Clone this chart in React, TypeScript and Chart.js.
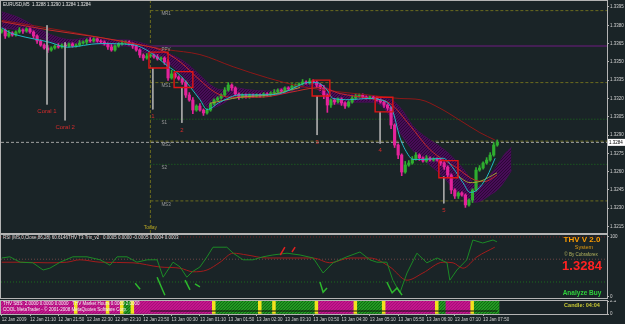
import React, { useEffect, useRef } from 'react';
import { Chart, registerables } from 'chart.js';

Chart.register(...registerables);

const FONT = '"Liberation Sans", Arial, sans-serif';
const BG = '#1a2427';
const FRAME = '#b4b4b4';
const AXIS_TXT = '#d2d2d2';
const PIP = 0.0001;
const X_MIN = -0.2;
const X_MAX = 171;
const P_MIN = 1.32097;
const P_MAX = 1.33999;

// ---------- data ----------
const chartTitle = 'EURUSD,M5  1.3288 1.3290 1.3284 1.3284';
const timeLabels = [
  '12 Jan 2009', '12 Jan 21:10', '12 Jan 21:50', '12 Jan 22:30', '12 Jan 23:10', '12 Jan 23:50',
  '13 Jan 00:30', '13 Jan 01:10', '13 Jan 01:50', '13 Jan 02:30', '13 Jan 03:10', '13 Jan 03:50',
  '13 Jan 04:30', '13 Jan 05:10', '13 Jan 05:50', '13 Jan 06:30', '13 Jan 07:10', '13 Jan 07:50',
];
const timeTickIdx = [0, 8, 16, 24, 32, 40, 48, 56, 64, 72, 80, 88, 96, 104, 112, 120, 128, 136];

const firstOpen = 1.33745;
const closes = [
  1.33761, 1.33712, 1.33737, 1.33720, 1.33745, 1.33761, 1.33753, 1.33770, 1.33745, 1.33712,
  1.33671, 1.33638, 1.33614, 1.33597, 1.33614, 1.33630, 1.33622, 1.33638, 1.33630, 1.33647,
  1.33630, 1.33638, 1.33655, 1.33663, 1.33679, 1.33671, 1.33688, 1.33671, 1.33663, 1.33647,
  1.33622, 1.33597, 1.33630, 1.33647, 1.33655, 1.33663, 1.33647, 1.33630, 1.33597, 1.33556,
  1.33532, 1.33548, 1.33556, 1.33540, 1.33524, 1.33532, 1.33499, 1.33368, 1.33401, 1.33376,
  1.33360, 1.33335, 1.33228, 1.33187, 1.33105, 1.33138, 1.33105, 1.33081, 1.33105, 1.33155,
  1.33187, 1.33204, 1.33228, 1.33269, 1.33310, 1.33286, 1.33237, 1.33212, 1.33228, 1.33212,
  1.33228, 1.33220, 1.33228, 1.33220, 1.33237, 1.33228, 1.33245, 1.33253, 1.33269, 1.33261,
  1.33286, 1.33278, 1.33302, 1.33310, 1.33319, 1.33335, 1.33327, 1.33343, 1.33335, 1.33310,
  1.33286, 1.33228, 1.33146, 1.33187, 1.33171, 1.33196, 1.33163, 1.33138, 1.33171, 1.33204,
  1.33220, 1.33228, 1.33212, 1.33204, 1.33212, 1.33204, 1.33187, 1.33171, 1.33146, 1.33122,
  1.32982, 1.32818, 1.32736, 1.32597, 1.32654, 1.32671, 1.32704, 1.32736, 1.32712, 1.32687,
  1.32712, 1.32695, 1.32704, 1.32695, 1.32671, 1.32638, 1.32572, 1.32450, 1.32400, 1.32425,
  1.32408, 1.32327, 1.32367, 1.32450, 1.32613, 1.32630, 1.32671, 1.32695, 1.32736, 1.32818,
  1.32840,
];
// wick extents in pips above / below the body
const wickUp = [
  1, 1, 2, 1, 1, 2, 1, 1, 1, 1, 1, 1, 1, 2, 1, 1, 2, 1, 1, 1,
  1, 1, 2, 1, 1, 2, 1, 1, 1, 1, 1, 2, 1, 1, 2, 1, 1, 1, 1, 1,
  1, 2, 1, 1, 2, 1, 1, 2, 3, 1, 1, 1, 1, 2, 2, 1, 2, 1, 1, 1,
  1, 1, 1, 2, 2, 1, 1, 1, 1, 1, 1, 1, 1, 1, 1, 1, 1, 2, 1, 1,
  1, 1, 2, 1, 1, 2, 1, 2, 1, 1, 1, 2, 1, 1, 1, 1, 1, 1, 1, 2,
  2, 1, 1, 1, 1, 1, 1, 1, 1, 1, 1, 1, 1, 1, 3, 2, 2, 2, 1, 1,
  2, 1, 1, 1, 1, 1, 1, 1, 1, 1, 1, 1, 1, 1, 2, 2, 1, 2, 2, 2, 2,
];
const wickDown = [
  1, 2, 1, 1, 1, 1, 2, 1, 1, 2, 2, 1, 1, 2, 1, 1, 1, 1, 1, 1,
  1, 1, 1, 1, 2, 1, 1, 1, 1, 1, 2, 1, 1, 1, 1, 1, 1, 2, 1, 2,
  2, 1, 1, 1, 1, 1, 2, 2, 1, 1, 1, 2, 2, 1, 3, 1, 1, 2, 1, 1,
  1, 1, 1, 1, 1, 2, 1, 2, 1, 1, 1, 1, 1, 1, 1, 1, 1, 1, 1, 1,
  1, 1, 1, 1, 1, 1, 1, 1, 1, 2, 2, 3, 6, 2, 2, 1, 2, 2, 1, 1,
  1, 1, 1, 1, 1, 1, 1, 1, 2, 2, 3, 2, 3, 3, 1, 1, 1, 1, 2, 1,
  1, 1, 1, 1, 2, 2, 2, 3, 2, 2, 1, 2, 1, 2, 1, 1, 1, 1, 1, 1, 1,
];

const priceTicks = [1.3395, 1.338, 1.3365, 1.335, 1.3335, 1.332, 1.3305, 1.329, 1.3275, 1.326, 1.3245, 1.323, 1.3215];
const bidPrice = 1.3284;
const todayIdx = 42;

const pivotNames = ['MR1', 'PPV', 'MS1', 'S1', 'MS2', 'S2', 'MS3'];
const pivotPrices = [1.3392, 1.3363, 1.3333, 1.3303, 1.3285, 1.3266, 1.3236];
const pivotKinds = ['mid', 'pp', 'mid', 'sup', 'mid', 'sup', 'mid'];

const slowIdx = [0, 18.5, 37, 46.7, 56, 65.4, 75, 84.3, 93.6, 103.2, 112.5, 118.2, 123.8, 129.5, 135.1, 139.3];
const slowVal = [1.3384, 1.3375, 1.3365, 1.336, 1.3356, 1.3346, 1.3337, 1.333, 1.3326, 1.3323, 1.332, 1.3319, 1.3312, 1.3302, 1.3292, 1.3286];

const medIdx = [0, 13.6, 27.8, 39, 44.7, 50.4, 56, 60.3, 64.5, 73, 81.4, 90, 95.6, 104, 109.7, 115.3, 121, 128.6, 133.7, 136.5, 139.9];
const medVal = [1.3383, 1.3376, 1.337, 1.3364, 1.336, 1.335, 1.3335, 1.3325, 1.3321, 1.3321, 1.3325, 1.3329, 1.3324, 1.332, 1.3316, 1.3298, 1.3278, 1.3263, 1.3253, 1.3252, 1.3257];

const fastIdx = [0, 2.3, 4.3, 13.6, 18.5, 27.8, 37.1, 41.9, 46.7, 50.4, 56, 58, 61.7, 67.3, 73.8, 78.6, 84.3, 86.2, 89, 91.9, 93.6, 98.4, 103.2, 106.9, 110.3, 112.5, 114.8, 116.2, 119, 124.7, 127.5, 130.3, 132.3, 134.3, 137.1, 139.4];
const fastVal = [1.3378, 1.3374, 1.3372, 1.3366, 1.3362, 1.3365, 1.3364, 1.3358, 1.3347, 1.3339, 1.3319, 1.3311, 1.3317, 1.3323, 1.3323, 1.3324, 1.3331, 1.3333, 1.3333, 1.3327, 1.332, 1.3319, 1.332, 1.3319, 1.3311, 1.3288, 1.3274, 1.327, 1.327, 1.3271, 1.3263, 1.3251, 1.3243, 1.3245, 1.3256, 1.3271];

const oliveIdx = [58.8, 67.3, 75.8, 84.3, null, 128.6, 132.3, 135.1, 139.9];
const oliveVal = [1.3316, 1.3321, 1.3323, 1.3329, null, 1.3257, 1.3251, 1.3252, 1.3259];

const cloudIdx = [0, 5, 10, 15, 20, 25, 30, 35, 40, 45, 48, 50, 53, 56, 59, 62, 65, 70, 75, 80, 85, 88, 90, 93, 96, 100, 105, 108, 110, 113, 116, 119, 122, 125, 128, 131, 134, 136, 138, 140, 142, 144];
const cloudTop = [1.3391, 1.3386, 1.3378, 1.3371, 1.3368, 1.337, 1.3368, 1.3368, 1.3365, 1.336, 1.3356, 1.3353, 1.3347, 1.3339, 1.3331, 1.3327, 1.3329, 1.3327, 1.3326, 1.3329, 1.3332, 1.3333, 1.3332, 1.3327, 1.3324, 1.3323, 1.3322, 1.332, 1.3319, 1.3311, 1.3298, 1.329, 1.3284, 1.3278, 1.327, 1.326, 1.3249, 1.3249, 1.3257, 1.3265, 1.3274, 1.328];
const cloudBot = [1.3378, 1.3376, 1.3371, 1.3366, 1.3365, 1.3366, 1.3363, 1.3363, 1.3358, 1.3353, 1.3347, 1.3342, 1.3333, 1.332, 1.3312, 1.3315, 1.332, 1.3321, 1.3322, 1.3324, 1.3329, 1.333, 1.3325, 1.3317, 1.3315, 1.3317, 1.3317, 1.3312, 1.3304, 1.329, 1.3278, 1.327, 1.3263, 1.3255, 1.3245, 1.3238, 1.3235, 1.3237, 1.3241, 1.3245, 1.3252, 1.3261];

const markerIdx = [12.8, 17.9, 42.7, 50.9, 89.1, 106.9, 124.9];
const markerTop = [1.338, 1.3366, 1.3345, 1.3329, 1.3322, 1.3309, 1.3256];
const markerBottom = [1.3315, 1.3302, 1.3311, 1.33, 1.329, 1.3283, 1.3234];
const markerLabels = ['Coral 1', 'Coral 2', '1', '2', '3', '4', '5'];

const boxFrom = [41.6, 48.7, 87.7, 105.5, 123.5];
const boxTo = [47.0, 54.0, 92.7, 110.5, 128.9];
const boxTop = [1.3358, 1.3342, 1.3335, 1.3321, 1.3269];
const boxBottom = [1.3345, 1.3329, 1.3322, 1.3309, 1.3255];

// RSI panel
const rsiTitle = 'RSI (MS,0,Close,86,28) 60.6146';
const trixTitle = 'THV T3 Trix_v2   0.0005 0.0000 -0.0005 0.0004 0.0003';
const rsiTicks = [0, 100];
const rsiLevels = [100, 63, 25];
const rsiFastIdx = [0, 2.3, 5.2, 8.8, 11.7, 13.6, 16.5, 20.1, 24.1, 27.8, 30.6, 32.6, 35.4, 38.2, 41.1, 43.9, 45.6, 48.4, 50.4, 52.3, 53.8, 56, 58, 59.7, 63.6, 65.4, 68.2, 71, 73.8, 76.6, 80.6, 84.3, 88, 90.8, 93.6, 97.5, 101.2, 104, 106, 108.8, 110.5, 112.5, 114.5, 117.3, 120.1, 123, 125.8, 126.6, 128.6, 131.4, 133.1, 135.9, 138.8, 139.9];
const rsiFastVal = [65, 67, 58, 57, 45, 48, 58, 67, 67, 62, 53, 67, 67, 58, 62, 62, 33, 58, 50, 33, 42, 50, 67, 83, 83, 73, 62, 62, 67, 70, 73, 70, 65, 40, 57, 67, 75, 62, 58, 58, 28, 7, 40, 73, 57, 65, 57, 28, 45, 62, 95, 90, 95, 92];
const rsiSlowIdx = [0, 5.2, 12.8, 18.4, 22.1, 27.8, 37.1, 44.7, 50.4, 54.1, 58, 61.7, 65.4, 69.3, 74.9, 80.6, 88, 92.7, 98.4, 104, 109.7, 114.5, 119, 124.7, 127.5, 130.3, 134.3, 139.3];
const rsiSlowVal = [58, 58, 57, 58, 62, 58, 57, 50, 48, 42, 45, 58, 73, 70, 65, 65, 65, 57, 65, 65, 50, 28, 40, 58, 57, 48, 67, 83];
const trixGreen = [
  [[37.7, 23], [39.1, 13]],
  [[43.9, 33], [46.1, 3]],
  [[51.8, 28], [53.2, 12]],
  [[54.6, 22], [56, 17]],
  [[89.9, 25], [90.8, 8], [91.9, 15]],
  [[108.8, 25], [110.3, 7], [111.7, 15], [113.1, 3]],
];
const trixRed = [
  [[78.7, 70], [80, 83]],
  [[82, 75], [82.9, 83]],
];

// signal strip
const stripTicks = [0, 2.1];
const stripSegments: [string, number][] = [
  ['M', 21], ['Y', 1], ['M', 8], ['Y', 1], ['M', 3], ['Y', 1], ['G', 2], ['Y', 1], ['M', 22], ['Y', 1],
  ['G', 12], ['Y', 1], ['G', 3], ['Y', 1], ['G', 11], ['Y', 1], ['M', 10], ['Y', 1], ['G', 7], ['Y', 1],
  ['M', 14], ['Y', 1], ['G', 2], ['M', 7], ['Y', 1], ['G', 7],
];
const stripLineIdx = [42, 140];
const stripLineVal = [0.48, 0.48];
const stripText1 = 'THV SBS: 2.0000 0.0000 0.0000   THV Market Hours 0.0000 2.0000';
const stripText2 = 'COOL MetaTrader - \u00a9 2001-2008 MetaQuotes Software Corp.';

// ---------- helpers ----------
function pattern(base: string, dot: string): any {
  const c = document.createElement('canvas');
  c.width = 3;
  c.height = 3;
  const g = c.getContext('2d');
  if (!g) return base;
  g.fillStyle = base;
  g.fillRect(0, 0, 3, 3);
  g.fillStyle = dot;
  g.fillRect(0, 0, 1, 1);
  g.fillRect(2, 1, 1, 1);
  g.fillRect(1, 2, 1, 1);
  return g.createPattern(c, 'repeat') || base;
}

const pts = (xs: (number | null)[], ys: (number | null)[]) =>
  xs.map((x, i) => ({ x: x === null ? (xs[i - 1] as number) : x, y: ys[i] }));

function rightAxis(min: number, max: number, ticks: number[], fmt: (v: number) => string) {
  return {
    position: 'right',
    min,
    max,
    beginAtZero: false,
    afterFit: (s: any) => {
      s.width = 18;
      s.paddingTop = 0;
      s.paddingBottom = 0;
    },
    afterBuildTicks: (s: any) => {
      s.ticks = ticks.map((v) => ({ value: v }));
    },
    ticks: {
      autoSkip: false,
      font: { size: 4.5, family: FONT },
      color: AXIS_TXT,
      padding: 1,
      callback: (v: any) => fmt(Number(v)),
    },
    grid: { drawOnChartArea: false, drawTicks: true, tickLength: 2, color: FRAME },
    border: { display: true, color: FRAME },
  };
}

const hiddenX = { type: 'linear', display: false, min: X_MIN, max: X_MAX, offset: false, grid: { offset: false } };

function frame(chart: any) {
  const { ctx, chartArea: a } = chart;
  ctx.save();
  ctx.strokeStyle = FRAME;
  ctx.lineWidth = 1;
  ctx.strokeRect(a.left - 0.5, a.top - 0.5, a.right - a.left + 1, a.bottom - a.top + 1);
  ctx.restore();
}

const lineDs = (data: any[], color: string, order: number, extra: any = {}) => ({
  type: 'line',
  data,
  borderColor: color,
  borderWidth: 1,
  pointRadius: 0,
  fill: false,
  spanGaps: false,
  order,
  ...extra,
});

// ---------- main panel ----------
function buildMain(): any {
  const opens = closes.map((_, i) => (i === 0 ? firstOpen : closes[i - 1]));
  const BULL = '#2fae2f';
  const BEAR = '#e3239b';
  const colors = closes.map((c, i) => (c >= opens[i] ? BULL : BEAR));
  const bodies = closes.map((c, i) => ({ x: i, y: [opens[i], c] }));
  const wicks = closes.map((c, i) => ({
    x: i,
    y: [Math.min(c, opens[i]) - wickDown[i] * PIP, Math.max(c, opens[i]) + wickUp[i] * PIP],
  }));

  const pivotStyle: any = {
    mid: { color: '#6c6c1e', dash: [3, 2] },
    pp: { color: '#6e1a82', dash: [] },
    sup: { color: '#1c701c', dash: [1, 2] },
  };
  const pivotDs = pivotPrices.map((p, k) =>
    lineDs(
      [{ x: todayIdx, y: p }, { x: X_MAX, y: p }],
      pivotStyle[pivotKinds[k]].color,
      110 + k,
      { borderDash: pivotStyle[pivotKinds[k]].dash },
    ),
  );

  const markerData = markerIdx.flatMap((ix, k) => [
    { x: ix, y: markerTop[k] },
    { x: ix, y: markerBottom[k] },
    { x: ix, y: null },
  ]);
  const boxData = boxFrom.flatMap((x0, k) => [
    { x: x0, y: boxTop[k] },
    { x: boxTo[k], y: boxTop[k] },
    { x: boxTo[k], y: boxBottom[k] },
    { x: x0, y: boxBottom[k] },
    { x: x0, y: boxTop[k] },
    { x: x0, y: null },
  ]);

  const cloudFill = pattern('#480d58', '#2c0736');

  const overlay = {
    id: 'mainOverlay',
    afterDraw(chart: any) {
      const { ctx, chartArea: a, scales } = chart;
      const xs = scales.x;
      const ys = scales.y;
      frame(chart);
      ctx.save();
      ctx.textBaseline = 'middle';
      ctx.font = `4.5px ${FONT}`;
      ctx.fillStyle = '#e6e6e6';
      ctx.textAlign = 'left';
      ctx.fillText(chartTitle, 3, 5);
      // pivot labels
      ctx.fillStyle = '#9c9c9c';
      const tx = xs.getPixelForValue(todayIdx);
      pivotNames.forEach((n, k) => ctx.fillText(n, tx + 11, ys.getPixelForValue(pivotPrices[k]) + 3.5));
      // marker labels
      ctx.font = `6px ${FONT}`;
      ctx.fillStyle = '#d22c2c';
      ctx.textAlign = 'center';
      markerLabels.forEach((l, k) =>
        ctx.fillText(l, xs.getPixelForValue(markerIdx[k]), ys.getPixelForValue(markerBottom[k]) + 7),
      );
      // today label
      ctx.font = `5px ${FONT}`;
      ctx.fillStyle = '#b4a424';
      ctx.fillText('Today', tx, a.bottom - 5);
      // bid label
      const by = ys.getPixelForValue(bidPrice);
      ctx.fillStyle = '#ffffff';
      ctx.fillRect(a.right + 1, by - 3.5, 17, 7);
      ctx.fillStyle = '#000000';
      ctx.textAlign = 'left';
      ctx.font = `4.5px ${FONT}`;
      ctx.fillText(bidPrice.toFixed(4), a.right + 2, by);
      ctx.restore();
    },
  };

  return {
    type: 'bar',
    data: {
      datasets: [
        ...pivotDs,
        lineDs([{ x: X_MIN, y: bidPrice }, { x: X_MAX, y: bidPrice }], '#a0a0a0', 105, { borderDash: [3, 2] }),
        lineDs([{ x: todayIdx, y: P_MIN }, { x: todayIdx, y: P_MAX }], '#6c6c1e', 104, { borderDash: [3, 2] }),
        lineDs(pts(cloudIdx, cloudTop), '#4a0e5a', 91, { cubicInterpolationMode: 'monotone' }),
        lineDs(pts(cloudIdx, cloudBot), '#4a0e5a', 90, {
          cubicInterpolationMode: 'monotone',
          fill: '-1',
          backgroundColor: cloudFill,
        }),
        {
          type: 'bar',
          data: wicks,
          backgroundColor: colors,
          barThickness: 1,
          grouped: false,
          borderWidth: 0,
          order: 60,
        },
        {
          type: 'bar',
          data: bodies,
          backgroundColor: colors,
          barThickness: 2.5,
          minBarLength: 1,
          grouped: false,
          borderWidth: 0,
          order: 50,
        },
        lineDs(pts(slowIdx, slowVal), '#8e1818', 42, { cubicInterpolationMode: 'monotone' }),
        lineDs(pts(medIdx, medVal), '#c42a2a', 41, { cubicInterpolationMode: 'monotone' }),
        lineDs(pts(oliveIdx, oliveVal), '#a3a32e', 40, { cubicInterpolationMode: 'monotone' }),
        lineDs(pts(fastIdx, fastVal), '#22b9c6', 30, { cubicInterpolationMode: 'monotone' }),
        lineDs(markerData, '#a8a8a8', 20),
        lineDs(boxData, '#e21414', 10, { borderWidth: 1.4 }),
      ],
    },
    options: {
      responsive: false,
      maintainAspectRatio: false,
      animation: false,
      events: [],
      layout: { padding: { left: 1, top: 1, right: 0, bottom: 1 } },
      plugins: { legend: { display: false }, tooltip: { enabled: false } },
      scales: {
        x: hiddenX,
        y: rightAxis(P_MIN, P_MAX, priceTicks, (v) => v.toFixed(4)),
      },
    },
    plugins: [overlay],
  };
}

// ---------- RSI panel ----------
function buildRsi(): any {
  const levelColors = ['#6e2222', '#6e4444', '#1c6e1c'];
  const levelDs = rsiLevels.map((lv, k) =>
    lineDs([{ x: X_MIN, y: lv }, { x: X_MAX, y: lv }], levelColors[k], 50 + k, { borderDash: [1, 2] }),
  );
  const strokes = (segs: number[][][]) =>
    segs.flatMap((s) => [...s.map(([x, y]) => ({ x, y })), { x: s[s.length - 1][0], y: null }]);

  const overlay = {
    id: 'rsiOverlay',
    afterDraw(chart: any) {
      const { ctx } = chart;
      frame(chart);
      ctx.save();
      ctx.textBaseline = 'middle';
      ctx.textAlign = 'left';
      ctx.font = `4.5px ${FONT}`;
      ctx.fillStyle = '#dcdcdc';
      ctx.fillText(rsiTitle, 3, 4);
      ctx.fillText(trixTitle, 68, 4);
      ctx.textAlign = 'center';
      ctx.font = `bold 8px ${FONT}`;
      ctx.fillStyle = '#ff9d00';
      ctx.fillText('THV V 2.0', 582, 6);
      ctx.font = `5.5px ${FONT}`;
      ctx.fillStyle = '#e09a10';
      ctx.fillText('System', 584, 13);
      ctx.font = `4.5px ${FONT}`;
      ctx.fillStyle = '#b8b860';
      ctx.fillText('\u00a9 By Cobraforex', 581, 21);
      ctx.font = `bold 13px ${FONT}`;
      ctx.fillStyle = '#ff2222';
      ctx.fillText(bidPrice.toFixed(4), 582, 32);
      ctx.font = `bold 6.5px ${FONT}`;
      ctx.fillStyle = '#2fcf3c';
      ctx.fillText('Analyze Buy', 582, 59);
      ctx.restore();
    },
  };

  return {
    type: 'line',
    data: {
      datasets: [
        ...levelDs,
        lineDs(pts(rsiSlowIdx, rsiSlowVal), '#a31c1c', 20, { cubicInterpolationMode: 'monotone' }),
        lineDs(pts(rsiFastIdx, rsiFastVal), '#1c8a26', 10),
        lineDs(strokes(trixGreen), '#2db82d', 5, { borderWidth: 1.5 }),
        lineDs(strokes(trixRed), '#e02020', 5, { borderWidth: 1.5 }),
      ],
    },
    options: {
      responsive: false,
      maintainAspectRatio: false,
      animation: false,
      events: [],
      layout: { padding: { left: 1, top: 1, right: 0, bottom: 2 } },
      plugins: { legend: { display: false }, tooltip: { enabled: false } },
      scales: {
        x: hiddenX,
        y: rightAxis(-1.67, 103.33, rsiTicks, (v) => String(v)),
      },
    },
    plugins: [overlay],
  };
}

// ---------- signal strip + time axis ----------
function buildStrip(): any {
  const codes = stripSegments.flatMap(([c, n]) => Array.from({ length: n }, () => c));
  const palette: any = {
    M: pattern('#c3168d', '#a80f78'),
    G: pattern('#229a22', '#146a14'),
    Y: '#f2e21e',
  };
  const bars = codes.map((_, i) => ({ x: i, y: stripTicks[1] }));

  const overlay = {
    id: 'stripOverlay',
    afterDraw(chart: any) {
      const { ctx } = chart;
      frame(chart);
      ctx.save();
      ctx.textBaseline = 'middle';
      ctx.textAlign = 'left';
      ctx.font = `4.5px ${FONT}`;
      ctx.fillStyle = '#f2f2f2';
      ctx.fillText(stripText1, 3, 3.5);
      ctx.fillText(stripText2, 3, 10);
      ctx.textAlign = 'center';
      ctx.font = `bold 5.5px ${FONT}`;
      ctx.fillStyle = '#c9c934';
      ctx.fillText('Candle: 04:04', 582, 5.5);
      ctx.restore();
    },
  };

  return {
    type: 'bar',
    data: {
      datasets: [
        lineDs(pts(stripLineIdx, stripLineVal), '#101010', 1),
        {
          type: 'bar',
          data: bars,
          backgroundColor: codes.map((c) => palette[c]),
          barPercentage: 1,
          categoryPercentage: 1,
          borderWidth: 0,
          grouped: false,
          order: 10,
        },
      ],
    },
    options: {
      responsive: false,
      maintainAspectRatio: false,
      animation: false,
      events: [],
      layout: { padding: { left: 1, top: 1, right: 0, bottom: 0 } },
      plugins: { legend: { display: false }, tooltip: { enabled: false } },
      scales: {
        x: {
          type: 'linear',
          min: X_MIN,
          max: X_MAX,
          offset: false,
          afterFit: (s: any) => {
            s.height = 10;
            s.paddingLeft = 0;
            s.paddingRight = 0;
          },
          afterBuildTicks: (s: any) => {
            s.ticks = timeTickIdx.map((v) => ({ value: v }));
          },
          ticks: {
            autoSkip: false,
            maxRotation: 0,
            minRotation: 0,
            align: 'start',
            padding: 1,
            font: { size: 4.5, family: FONT },
            color: AXIS_TXT,
            callback: (_v: any, i: number) => timeLabels[i],
          },
          grid: { drawOnChartArea: false, drawTicks: true, tickLength: 2, color: FRAME, offset: false },
          border: { display: true, color: FRAME },
        },
        y: rightAxis(0, 2.1, stripTicks, (v) => String(v)),
      },
    },
    plugins: [overlay],
  };
}

function ChartCanvas({ top, height, build }: { top: number; height: number; build: () => any }) {
  const ref = useRef<HTMLCanvasElement>(null);
  useEffect(() => {
    if (!ref.current) return;
    const chart = new Chart(ref.current, build());
    return () => chart.destroy();
  }, []);
  return (
    <canvas
      ref={ref}
      width={625}
      height={height}
      style={{ position: 'absolute', left: 0, top, width: 625, height, display: 'block' }}
    />
  );
}

export default function App() {
  return (
    <div
      style={{
        position: 'fixed',
        left: 0,
        top: 0,
        width: 625,
        height: 324,
        background: BG,
        overflow: 'hidden',
      }}
    >
      <ChartCanvas top={0} height={234} build={buildMain} />
      <ChartCanvas top={234} height={66} build={buildRsi} />
      <ChartCanvas top={300} height={24} build={buildStrip} />
    </div>
  );
}
